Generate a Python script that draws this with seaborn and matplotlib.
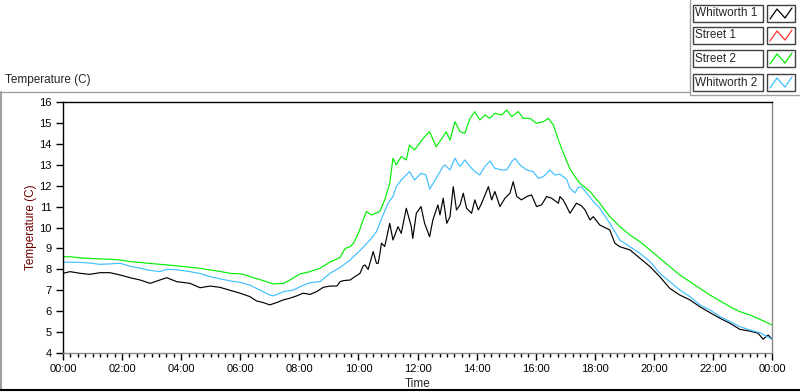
import matplotlib
matplotlib.use("Agg")
import matplotlib.pyplot as plt
import matplotlib.ticker as mticker
from matplotlib.lines import Line2D
from matplotlib.patches import Rectangle
import pandas as pd
import seaborn as sns

# --- data (hours since midnight, temperature in C) ---
W1_HOURS = [0.0, 0.24, 0.58, 0.91, 1.25, 1.59, 1.93, 2.27, 2.61, 2.95, 3.28, 3.51, 3.85, 4.30,
            4.64, 4.98, 5.31, 5.65, 5.99, 6.32, 6.55, 6.78, 7.0, 7.23, 7.46, 7.68, 7.91, 8.13,
            8.36, 8.58, 8.81, 9.04, 9.27, 9.38, 9.49, 9.72, 9.88, 10.05, 10.16, 10.22, 10.33,
            10.5, 10.61, 10.67, 10.72, 10.78, 10.89, 11.06, 11.17, 11.34, 11.45, 11.62, 11.79,
            11.84, 11.96, 12.12, 12.24, 12.41, 12.52, 12.69, 12.76, 12.87, 12.99, 13.1, 13.21,
            13.32, 13.44, 13.55, 13.66, 13.83, 13.94, 14.06, 14.17, 14.4, 14.51, 14.62, 14.79,
            14.96, 15.13, 15.24, 15.36, 15.52, 15.7, 15.86, 16.03, 16.2, 16.37, 16.54, 16.77,
            16.82, 16.93, 17.05, 17.16, 17.27, 17.38, 17.55, 17.67, 17.84, 17.95, 18.17, 18.51,
            18.68, 18.85, 19.19, 19.53, 19.87, 20.2, 20.54, 20.88, 21.22, 21.56, 21.9, 22.24,
            22.58, 22.91, 23.25, 23.53, 23.7, 23.87, 24.0]
W1_TEMPS = [7.81, 7.89, 7.81, 7.76, 7.84, 7.84, 7.73, 7.60, 7.49, 7.33, 7.49, 7.60, 7.41, 7.33,
            7.12, 7.20, 7.14, 7.00, 6.86, 6.70, 6.49, 6.41, 6.30, 6.41, 6.54, 6.62, 6.73, 6.86,
            6.80, 6.93, 7.14, 7.20, 7.20, 7.41, 7.46, 7.49, 7.65, 7.80, 8.16, 8.21, 8.00,
            8.85, 8.29, 8.29, 8.69, 9.25, 9.09, 10.20, 9.40, 10.04, 9.72, 10.92, 10.04,
            9.48, 10.68, 11.00, 10.20, 9.56, 10.36, 11.08, 10.60, 11.40, 10.20, 10.52, 11.95,
            10.84, 11.08, 11.64, 10.92, 10.68, 11.32, 10.84, 11.16, 11.95, 11.32, 11.72, 11.00,
            11.40, 11.64, 12.19, 11.48, 11.32, 11.48, 11.56, 11.00, 11.08, 11.48, 11.40, 11.16,
            11.48, 11.32, 11.00, 10.68, 10.92, 11.16, 11.04, 10.84, 10.36, 10.52, 10.12, 9.88,
            9.25, 9.08, 8.93, 8.53, 8.13, 7.65, 7.09, 6.77, 6.54, 6.21, 5.93, 5.66,
            5.42, 5.13, 5.05, 4.94, 4.66, 4.86, 4.66]

S2_HOURS = [0.0, 0.24, 0.58, 0.91, 1.25, 1.59, 1.93, 2.27, 2.61, 2.95, 3.28, 3.62, 3.96, 4.30,
            4.64, 4.98, 5.31, 5.65, 5.99, 6.1, 6.44, 6.78, 7.12, 7.46, 7.68, 8.02, 8.36, 8.70,
            9.04, 9.38, 9.55, 9.72, 9.83, 10.0, 10.16, 10.27, 10.44, 10.72, 10.89, 11.06, 11.17,
            11.28, 11.45, 11.62, 11.73, 11.9, 12.07, 12.24, 12.41, 12.63, 12.8, 12.97, 13.1,
            13.27, 13.44, 13.6, 13.78, 13.94, 14.11, 14.28, 14.45, 14.62, 14.85, 15.02, 15.19,
            15.41, 15.58, 15.81, 16.03, 16.26, 16.43, 16.6, 16.77, 16.94, 17.16, 17.33, 17.5,
            17.84, 18.17, 18.51, 18.85, 19.19, 19.53, 19.87, 20.2, 20.54, 20.88, 21.22, 21.56,
            21.9, 22.24, 22.58, 22.91, 23.25, 23.59, 24.0]
S2_TEMPS = [8.60, 8.60, 8.55, 8.52, 8.50, 8.48, 8.45, 8.37, 8.33, 8.28, 8.24, 8.20, 8.15, 8.10,
            8.05, 7.97, 7.90, 7.81, 7.78, 7.76, 7.60, 7.46, 7.30, 7.33, 7.49, 7.78, 7.89, 8.05,
            8.35, 8.57, 9.00, 9.08, 9.25, 9.72, 10.36, 10.76, 10.60, 10.76, 11.32, 12.11, 13.31,
            12.99, 13.39, 13.23, 13.94, 13.71, 14.03, 14.34, 14.58, 13.86, 14.20, 14.58, 14.18,
            15.06, 14.58, 14.50, 15.22, 15.54, 15.14, 15.38, 15.22, 15.46, 15.38, 15.62, 15.30,
            15.54, 15.22, 15.22, 14.98, 15.06, 15.22, 14.90, 14.18, 13.55, 12.80, 12.43, 12.11,
            11.72, 11.16, 10.52, 10.04, 9.64, 9.32, 8.93, 8.53, 8.13, 7.73, 7.41, 7.09,
            6.77, 6.49, 6.21, 5.98, 5.82, 5.61, 5.34]

W2_HOURS = [0.0, 0.5, 0.91, 1.25, 1.59, 1.93, 2.27, 2.61, 2.95, 3.28, 3.51, 3.85, 4.30, 4.64,
            4.98, 5.31, 5.65, 5.99, 6.32, 6.66, 7.0, 7.12, 7.46, 7.80, 8.02, 8.36, 8.70, 9.04,
            9.38, 9.72, 10.05, 10.39, 10.61, 10.72, 11.0, 11.17, 11.28, 11.45, 11.73, 11.9,
            12.12, 12.29, 12.41, 12.63, 12.86, 12.93, 13.1, 13.27, 13.44, 13.6, 13.78, 13.94,
            14.11, 14.28, 14.45, 14.62, 14.85, 15.02, 15.19, 15.3, 15.47, 15.7, 15.92, 16.09,
            16.26, 16.48, 16.65, 16.82, 17.05, 17.16, 17.33, 17.44, 17.55, 17.78, 17.95, 18.17,
            18.51, 18.85, 19.19, 19.53, 19.87, 20.2, 20.54, 20.88, 21.22, 21.56, 21.9, 22.24,
            22.58, 22.91, 23.25, 23.59, 24.0]
W2_TEMPS = [8.34, 8.34, 8.30, 8.24, 8.26, 8.29, 8.15, 8.05, 7.95, 7.89, 8.00, 7.98, 7.89, 7.80,
            7.65, 7.55, 7.45, 7.38, 7.25, 7.01, 6.77, 6.73, 6.93, 7.01, 7.17, 7.36, 7.41, 7.81,
            8.09, 8.45, 8.89, 9.40, 9.80, 10.20, 11.16, 11.48, 11.95, 12.27, 12.67, 12.27,
            12.59, 12.51, 11.83, 12.35, 12.91, 12.99, 12.75, 13.31, 12.91, 13.23, 12.91, 12.67,
            12.51, 12.91, 13.18, 12.83, 12.75, 12.75, 13.15, 13.31, 12.99, 12.75, 12.67, 12.35,
            12.43, 12.75, 12.51, 12.55, 12.30, 11.87, 11.66, 11.91, 11.95, 11.56, 11.24, 10.92,
            10.20, 9.40, 9.08, 8.77, 8.37, 7.81, 7.41, 7.01, 6.70, 6.30, 6.06, 5.74,
            5.50, 5.26, 5.10, 4.97, 4.66]

SERIES = ["Whitworth 1", "Street 1", "Street 2", "Whitworth 2"]
COLORS = {"Whitworth 1": "#000000", "Street 1": "#ff3030",
          "Street 2": "#00f000", "Whitworth 2": "#40c0ff"}
Y_TICKS = list(range(4, 17))
X_TICKS = list(range(0, 25, 2))

W, H = 800, 392


def fx(px):
    return px / W


def fy(py):
    return 1 - py / H


df = pd.concat([
    pd.DataFrame({"hour": W1_HOURS, "temp": W1_TEMPS, "series": "Whitworth 1"}),
    pd.DataFrame({"hour": S2_HOURS, "temp": S2_TEMPS, "series": "Street 2"}),
    pd.DataFrame({"hour": W2_HOURS, "temp": W2_TEMPS, "series": "Whitworth 2"}),
], ignore_index=True)

sns.set_theme(style="white")
plt.rcParams["font.family"] = ["Liberation Sans", "DejaVu Sans"]
plt.rcParams["font.size"] = 8

fig = plt.figure(figsize=(W / 100, H / 100), dpi=100)
ax = fig.add_axes([fx(63), fy(353), fx(772) - fx(63), fy(102) - fy(353)])

sns.lineplot(data=df, x="hour", y="temp", hue="series", palette=COLORS,
             estimator=None, sort=False, legend=False, linewidth=0.85, ax=ax)

ax.set_xlim(0, 24)
ax.set_ylim(4, 16)
ax.set_yticks(Y_TICKS)
ax.set_xticks(X_TICKS)
ax.xaxis.set_minor_locator(mticker.MultipleLocator(0.25))
ax.xaxis.set_major_formatter(mticker.FuncFormatter(lambda v, p: f"{int(v) % 24:02d}:00"))

for side in ("left", "top"):
    ax.spines[side].set_color("black")
for side in ("right", "bottom"):
    ax.spines[side].set_color("#8a8a8a")
for sp in ax.spines.values():
    sp.set_linewidth(1.0)

ax.tick_params(axis="both", which="major", direction="out", length=5, width=1,
               color="black", labelsize=8, pad=3, labelcolor="black")
ax.tick_params(axis="x", which="minor", direction="out", length=3, width=1,
               color="black", bottom=True)
ax.tick_params(axis="x", which="major", bottom=True)
ax.tick_params(axis="y", which="major", left=True)

ax.set_xlabel("Time", fontsize=8.5, labelpad=3)
ax.set_ylabel("Temperature (C)", fontsize=8.5, color="#6b0000", labelpad=2)

# chart caption and frame
fig.text(fx(5), fy(80), "Temperature (C)", fontsize=8.5, ha="left", va="center")
fig.add_artist(Line2D([fx(0), fx(690)], [fy(92), fy(92)], color="#a0a0a0", lw=1))
fig.add_artist(Line2D([fx(690), fx(690)], [fy(0), fy(95)], color="#a0a0a0", lw=1))
fig.add_artist(Line2D([fx(690), fx(800)], [fy(95), fy(95)], color="#a0a0a0", lw=1))
fig.add_artist(Line2D([fx(1), fx(1)], [fy(92), fy(390)], color="#a0a0a0", lw=1.5))
fig.add_artist(Line2D([fx(0), fx(800)], [fy(390), fy(390)], color="black", lw=1.5))

# legend (LabVIEW style plot legend)
box_tops = [5, 27, 50, 74]
for name, top in zip(SERIES, box_tops):
    bottom = top + 17
    fig.add_artist(Rectangle((fx(693), fy(bottom)), fx(763) - fx(693), fy(top) - fy(bottom),
                             transform=fig.transFigure, facecolor="white",
                             edgecolor="#404040", lw=1))
    fig.text(fx(695), fy((top + bottom) / 2), name, fontsize=8.5, ha="left", va="center")
    fig.add_artist(Rectangle((fx(767), fy(bottom)), fx(795) - fx(767), fy(top) - fy(bottom),
                             transform=fig.transFigure, facecolor="white",
                             edgecolor="#404040", lw=1))
    zx = [fx(770), fx(777), fx(785), fx(792)]
    zy = [fy(bottom - 3), fy(top + 4), fy(bottom - 4), fy(top + 3)]
    fig.add_artist(Line2D(zx, zy, color=COLORS[name], lw=0.9))

fig.savefig("out.png", dpi=100)
